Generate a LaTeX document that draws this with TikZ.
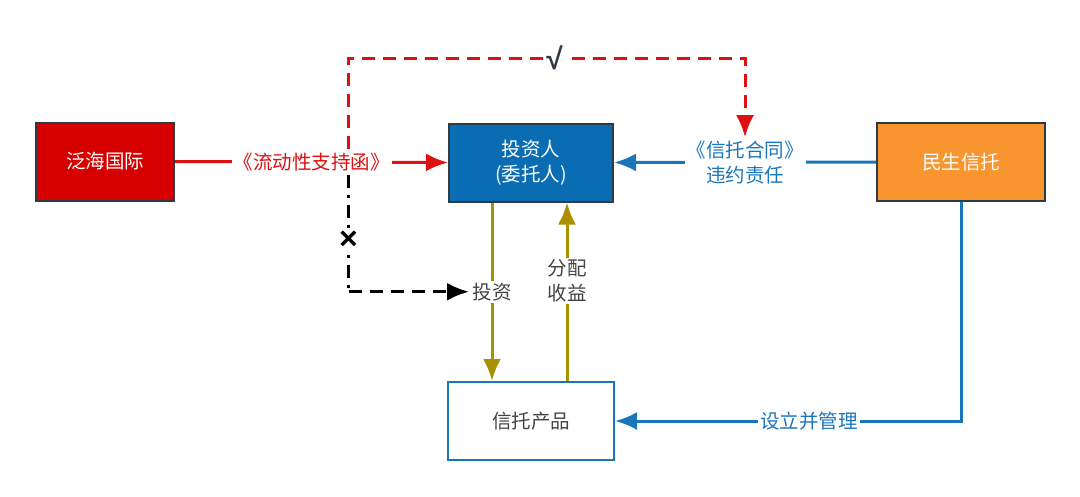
\documentclass[tikz,border=0pt]{standalone}
\usepackage{fontspec}
\setmainfont{Noto Sans CJK SC}
\newfontfamily\markfont{Liberation Sans}
\usetikzlibrary{arrows.meta,positioning}
\definecolor{boxred}{HTML}{D60000}
\definecolor{boxblue}{HTML}{0A6CB2}
\definecolor{boxorange}{HTML}{F9952F}
\definecolor{rim}{HTML}{2E3A44}
\definecolor{linered}{HTML}{DD1111}
\definecolor{lineblue}{HTML}{1A76BA}
\definecolor{linegold}{HTML}{AA8F00}
\definecolor{txtgray}{HTML}{444444}
\tikzset{
party/.style={
  draw=rim,
  line width=2pt,
  fill=#1,
  text=white,
  minimum height=78pt,
  align=center,
  font=\fontsize{19.5}{25}\selectfont
  },
edgelbl/.style={
  fill=white,
  inner sep=2pt,
  align=center,
  font=\fontsize{19.5}{25}\selectfont
  },
link/.style={
  line width=3pt
  }
}
\begin{document}
\begin{tikzpicture}[x=1pt,y=-1pt,>={Latex[length=22pt,width=18pt]}]
\useasboundingbox (0,0) rectangle (1080,496);

\node[party=boxred,minimum width=138pt] (fanhai) at (105,161.5) {泛海国际};
\node[party=boxblue,minimum width=164pt] (investor) at (531,162.5) {投资人\\(委托人)};
\node[party=boxorange,minimum width=168pt] (minsheng) at (961,162) {民生信托};
\node[party=white,draw=lineblue,text=txtgray,minimum width=166pt] (product) at (531,421) {信托产品};

% red letter of support
\draw[->,linered,link] (fanhai.east) -- node[edgelbl,text=linered] (support) {《流动性支持函》} (investor.west);

% blue trust contract
\draw[->,lineblue,link] (minsheng.west) -- node[edgelbl,text=lineblue] (contract) {《信托合同》\\违约责任} (investor.east);
\draw[->,lineblue,link] (minsheng.south) |- node[edgelbl,text=lineblue,pos=0.72] (setup) {设立并管理} (product.east);

% gold money flows
\draw[->,linegold,link] ([xshift=-39pt]investor.south) -- node[edgelbl,text=txtgray] (invest) {投资} ([xshift=-39pt]product.north);
\draw[->,linegold,link] ([xshift=36pt]product.north) -- node[edgelbl,text=txtgray,pos=0.56] (payout) {分配\\收益} ([xshift=36pt]investor.south);

% dashed links
\coordinate (topy) at (0,58);
\draw[->,linered,link,dash pattern=on 13pt off 8pt] ([xshift=37pt]support.north) -- ([xshift=37pt]support.north |- topy) -- node[edgelbl,inner sep=1pt,text=rim,pos=0.52,font=\markfont\fontsize{30}{30}\selectfont\bfseries] (yes) {√} (contract.north |- topy) -- (contract.north);
\coordinate (bend) at ([xshift=37pt]support.south |- invest.west);
\draw[black,link,dash pattern=on 13pt off 7pt on 3pt off 7pt] ([xshift=37pt]support.south) -- node[edgelbl,inner sep=1pt,pos=0.56,font=\markfont\fontsize{32}{32}\selectfont\bfseries] (no) {×} (bend);
\draw[->,black,link,dash pattern=on 13pt off 8pt] (bend) -- (invest.west);

\end{tikzpicture}
\end{document}
